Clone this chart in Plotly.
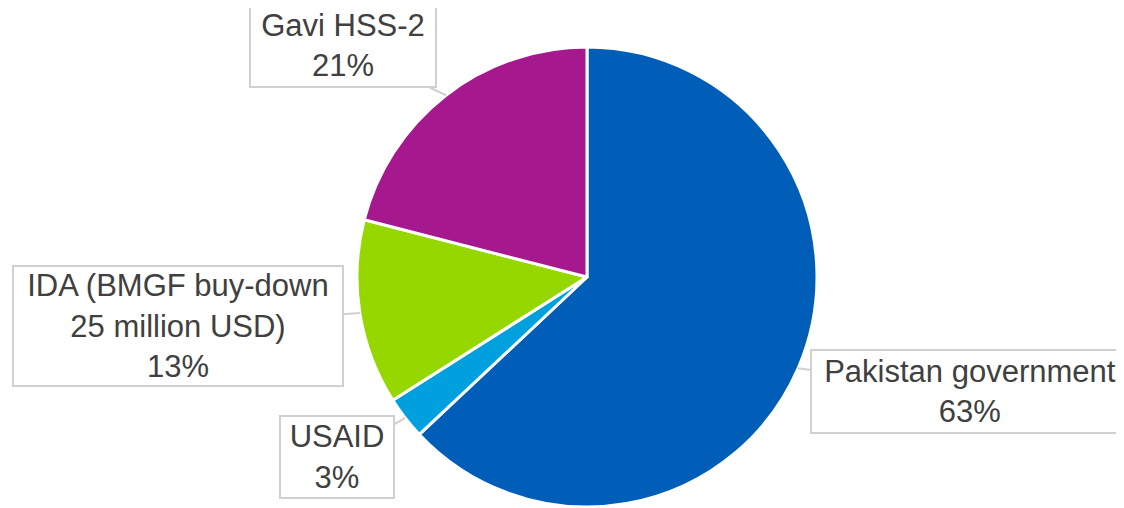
import math
import plotly.graph_objects as go

# ---- data ----
labels = ["Pakistan government", "USAID", "IDA (BMGF buy-down<br>25 million USD)", "Gavi HSS-2"]
values = [63, 3, 13, 21]
colors = ["#005EB8", "#00A0DF", "#97D700", "#A6198E"]

# ---- layout / style ----
OFF = 8                              # page body margin offset
W, H = 1124, 508
cx, cy, r = 587 - OFF, 277 - OFF, 230   # pie centre and radius in figure pixels
# box centres (figure pixels) and sizes for each label
box_centres = [(970 - OFF, 391 - OFF), (337 - OFF, 457 - OFF), (178 - OFF, 326 - OFF), (343 - OFF, 46 - OFF)]
box_sizes = [(316, 81), (112, 80), (328, 118), (184, 81)]

fig = go.Figure(go.Pie(
    labels=labels,
    values=values,
    sort=False,
    direction="clockwise",
    rotation=0,
    marker=dict(colors=colors, line=dict(color="white", width=3)),
    textinfo="none",
    hoverinfo="skip",
    showlegend=False,
    domain=dict(x=[(cx - r) / W, (cx + r) / W], y=[1 - (cy + r) / H, 1 - (cy - r) / H]),
))

total = sum(values)
cum = 0
annotations = []
for lab, v, (bx, by), (bw, bh) in zip(labels, values, box_centres, box_sizes):
    mid = (cum + v / 2) / total * 2 * math.pi
    cum += v
    tx = cx + r * math.sin(mid)
    ty = cy - r * math.cos(mid)
    pct = round(v / total * 100)
    annotations.append(dict(
        x=tx / W, y=1 - ty / H, xref="paper", yref="paper",
        ax=bx - tx, ay=by - ty,
        text=f"{lab}<br>{pct}%",
        showarrow=True, arrowhead=0, arrowwidth=2, arrowcolor="#D0D0D0",
        font=dict(family="Liberation Sans, Arial, sans-serif", size=31, color="#404040"),
        align="center",
        width=bw, height=bh,
        bgcolor="white", bordercolor="#D0D0D0", borderwidth=2, borderpad=0,
    ))

fig.update_layout(
    width=W, height=H,
    margin=dict(l=0, r=0, t=0, b=0),
    paper_bgcolor="white", plot_bgcolor="white",
    annotations=annotations,
)

fig.write_html("out.html")
